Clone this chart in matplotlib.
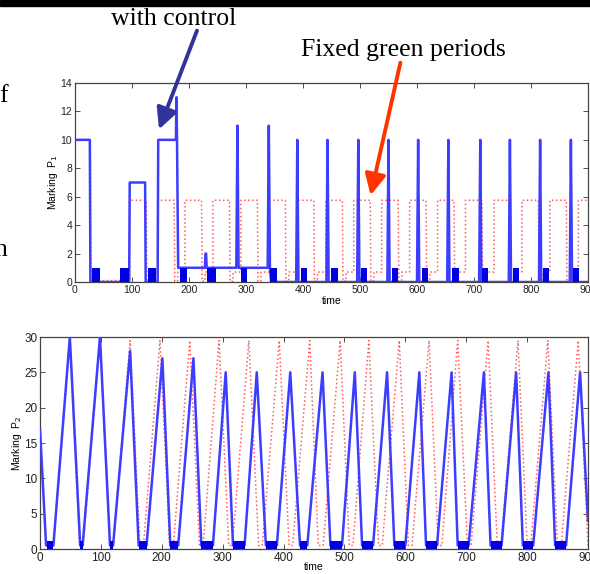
import matplotlib
matplotlib.use("Agg")
import matplotlib.pyplot as plt
from matplotlib.patches import Rectangle, FancyArrowPatch

W, H = 590, 574

# ---------------- data: top panel (Marking P1) ----------------
p1_ctrl_t = [0, 26, 27, 95, 96, 123, 124, 145, 146, 177, 178, 179, 181, 228, 229, 230, 231, 283, 285, 287, 289,
             338, 340, 342, 344,
             388, 390, 392, 441, 443, 445, 495, 497, 499, 548, 550, 552, 600, 602, 604, 653, 655, 657,
             709, 711, 713, 761, 763, 765, 814, 816, 818, 868, 870, 872, 900]
p1_ctrl_v = [10, 10, 0, 0, 7, 7, 0, 0, 10, 10, 13, 10, 1, 1, 2, 2, 1, 1, 11, 1, 1,
             1, 11, 1, 0,
             0, 10, 0, 0, 10, 0, 0, 10, 0, 0, 10, 0, 0, 10, 0, 0, 10, 0,
             0, 10, 0, 0, 10, 0, 0, 10, 0, 0, 10, 0, 0]
p1_block_start = [29, 79, 128, 184, 231, 291, 342, 396, 449, 502, 557, 609, 662, 714, 768, 821, 874]
p1_block_end = [44, 94, 142, 196, 248, 302, 354, 407, 461, 513, 566, 620, 673, 725, 779, 832, 885]

p1_fixed_rise = [96, 145, 193, 242, 291, 340, 390, 440, 489, 538, 587, 636, 685, 735, 784, 833, 883]
p1_fixed_fall = [125, 174, 222, 271, 320, 369, 419, 469, 518, 567, 616, 665, 714, 764, 813, 862]
p1_fixed_start = 10
p1_fixed_high = 5.75
p1_fixed_low = 0.7

# ---------------- data: bottom panel (Marking P2) ----------------
p2_ctrl_t = [0, 10, 22, 49, 66, 70, 98.5, 115, 120, 148, 162, 175, 201, 214, 227, 252, 265, 284, 305, 317, 336,
             356, 371, 389, 411, 427, 439, 464, 477, 496, 517, 529, 547, 570, 582, 600, 623, 634, 652,
             676, 686, 704, 729, 740, 758, 782, 793, 810, 835, 846, 864, 887, 900]
p2_ctrl_v = [17, 0.5, 0.5, 30, 0.5, 0.5, 30, 0.5, 0.5, 28, 0.5, 0.5, 27, 0.5, 0.5, 27, 0.5, 0.5, 25, 0.5, 0.5,
             25, 0.5, 0.5, 25, 0.5, 0.5, 25, 0.5, 0.5, 25, 0.5, 0.5, 25, 0.5, 0.5, 25, 0.5, 0.5,
             25, 0.5, 0.5, 25, 0.5, 0.5, 25, 0.5, 0.5, 25, 0.5, 0.5, 25, 4]
p2_block_start = [11, 66, 115, 162, 214, 265, 317, 371, 427, 477, 529, 582, 634, 686, 740, 793, 846]
p2_block_end = [22, 70, 120, 175, 227, 284, 336, 389, 439, 496, 547, 600, 652, 704, 758, 810, 864]

p2_fixed_t = [0, 10, 22, 49, 65, 71, 98.5, 115, 120, 148, 164, 170, 197, 213, 219, 246, 262, 268, 294, 310, 316,
              343, 359, 365, 393, 409, 415, 443, 457, 465, 493, 508, 514, 540, 556, 562, 590, 605, 611,
              639, 654, 660, 686, 702, 708, 736, 751, 757, 785, 800, 806, 834, 850, 856, 884, 900]
p2_fixed_v = [17, 0.5, 0.5, 29.5, 0.5, 0.5, 29.5, 0.5, 0.5, 29.5, 0.5, 0.5, 29.5, 0.5, 0.5, 29.5, 0.5, 0.5, 29.5, 0.5, 0.5,
              29.5, 0.5, 0.5, 29.5, 0.5, 0.5, 29.5, 0.5, 0.5, 29.5, 0.5, 0.5, 29.5, 0.5, 0.5, 29.5, 0.5, 0.5,
              29.5, 0.5, 0.5, 29.5, 0.5, 0.5, 29.5, 0.5, 0.5, 29.5, 0.5, 0.5, 29.5, 0.5, 0.5, 29.5, 0.5]

x_ticks = [0, 100, 200, 300, 400, 500, 600, 700, 800, 900]
p1_yticks = [0, 2, 4, 6, 8, 10, 12, 14]
p2_yticks = [0, 5, 10, 15, 20, 25, 30]

# build the fixed-period step path for P1 from read rise/fall times
fx_t = [0, 27, 28, 34, p1_fixed_rise[0]]
fx_v = [p1_fixed_start, p1_fixed_start, 0.3, 0.1, 0.1]
for i, r in enumerate(p1_fixed_rise):
    fx_t.append(r); fx_v.append(p1_fixed_high)
    if i < len(p1_fixed_fall):
        f = p1_fixed_fall[i]
        fx_t += [f, f + 1, f + 6, f + 6.5, p1_fixed_rise[i + 1]]
        fx_v += [p1_fixed_high, 0.05, 0.05, p1_fixed_low, p1_fixed_low]
fx_t.append(900); fx_v.append(p1_fixed_high)

BLUE = '#3d3dff'
BLOCK = '#0000e6'
RED = '#ff5a5a'

plt.rcParams['font.family'] = ['Liberation Sans', 'DejaVu Sans']
fig = plt.figure(figsize=(W / 100, H / 100), dpi=100)
fig.patch.set_facecolor('white')

def style(ax, yticks, ylim):
    ax.set_xlim(0, 900)
    ax.set_ylim(*ylim)
    ax.set_xticks(x_ticks)
    ax.set_yticks(yticks)
    ax.tick_params(direction='in', length=3.5, width=0.6, labelsize=7.5, top=True, right=True,
                   colors='#333333', pad=2)
    ax.tick_params(axis='x', labelcolor='#222222')
    ax.tick_params(axis='y', labelcolor='#222222')
    for s in ax.spines.values():
        s.set_color('#444444')
        s.set_linewidth(0.9)

# top axes
ax1 = fig.add_axes([75 / W, 1 - 282 / H, (588 - 75) / W, (282 - 83) / H])
ax1.plot(fx_t, fx_v, color=RED, ls=':', lw=1.1, zorder=2)
ax1.plot(p1_ctrl_t, p1_ctrl_v, color=BLUE, lw=1.8, zorder=3)
for s, e in zip(p1_block_start, p1_block_end):
    ax1.fill_between([s, e], 0, 1, color=BLOCK, lw=0, zorder=4)
style(ax1, p1_yticks, (0, 14))
ax1.set_xlabel('time', fontsize=7.5, labelpad=1)
ax1.set_ylabel('Marking  P$_1$', fontsize=7.5, labelpad=0)

# bottom axes
ax2 = fig.add_axes([40 / W, 1 - 549 / H, (588 - 40) / W, (549 - 337) / H])
ax2.plot(p2_fixed_t, p2_fixed_v, color=RED, ls=':', lw=1.1, zorder=2)
ax2.plot(p2_ctrl_t, p2_ctrl_v, color=BLUE, lw=1.8, zorder=3)
for s, e in zip(p2_block_start, p2_block_end):
    ax2.fill_between([s, e], 0, 1.1, color=BLOCK, lw=0, zorder=4)
style(ax2, p2_yticks, (0, 30))
ax2.tick_params(labelsize=8.5)
ax2.set_xlabel('time', fontsize=7.5, labelpad=-1)
ax2.set_ylabel('Marking  P$_2$', fontsize=7.5, labelpad=0)

# slide decorations
fig.patches.append(Rectangle((0, 1 - 5.5 / H), 1, 5.5 / H, transform=fig.transFigure,
                             color='black', zorder=10))
serif = ['Liberation Serif', 'DejaVu Serif']
fig.text(174 / W, 1 - 19 / H, 'with control', family=serif, fontsize=18.5, ha='center', va='center')
fig.text(403 / W, 1 - 50 / H, 'Fixed green periods', family=serif, fontsize=18.5, ha='center', va='center')
fig.text(-1 / W, 1 - 96 / H, 'f', family=serif, fontsize=18.5, ha='left', va='center')
fig.text(-6 / W, 1 - 250 / H, 'n', family=serif, fontsize=18.5, ha='left', va='center')

def arrow(x0, y0, x1, y1, color):
    a = FancyArrowPatch((x0 / W, 1 - y0 / H), (x1 / W, 1 - y1 / H), transform=fig.transFigure,
                        arrowstyle='-|>,head_length=0.9,head_width=0.45', mutation_scale=14,
                        color=color, lw=2.8, zorder=11)
    fig.patches.append(a)

arrow(198, 28, 158, 132, '#33339c')
arrow(401, 60, 370, 198, '#ff3300')

fig.savefig('out.png', dpi=100)
